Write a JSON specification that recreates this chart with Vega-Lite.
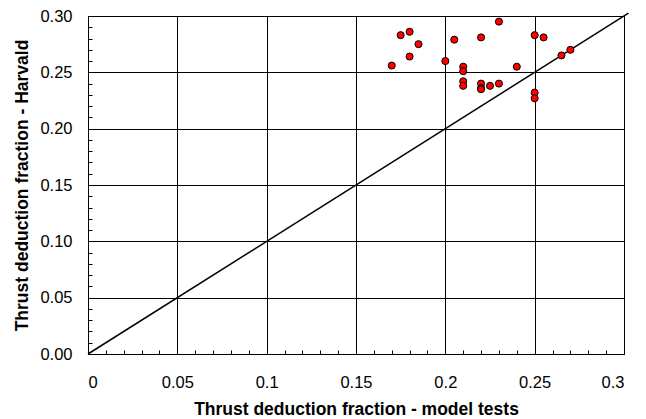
{
  "$schema": "https://vega.github.io/schema/vega-lite/v6.json",
  "width": 536,
  "height": 338,
  "autosize": {"type": "none"},
  "padding": {"left": 88, "top": 16, "right": 22, "bottom": 65},
  "background": "white",
  "config": {
    "view": {"stroke": "black", "strokeWidth": 1},
    "font": "Liberation Sans",
    "axis": {
      "labelFont": "Liberation Sans",
      "titleFont": "Liberation Sans",
      "labelColor": "black",
      "titleColor": "black",
      "domainColor": "black",
      "tickColor": "black",
      "gridColor": "black",
      "gridOpacity": 1,
      "gridWidth": 1
    }
  },
  "datasets": {
    "points": [
      {"model": 0.170, "harvald": 0.256},
      {"model": 0.175, "harvald": 0.283},
      {"model": 0.180, "harvald": 0.286},
      {"model": 0.180, "harvald": 0.264},
      {"model": 0.185, "harvald": 0.275},
      {"model": 0.200, "harvald": 0.260},
      {"model": 0.205, "harvald": 0.279},
      {"model": 0.220, "harvald": 0.281},
      {"model": 0.230, "harvald": 0.295},
      {"model": 0.210, "harvald": 0.255},
      {"model": 0.210, "harvald": 0.251},
      {"model": 0.210, "harvald": 0.242},
      {"model": 0.210, "harvald": 0.238},
      {"model": 0.220, "harvald": 0.240},
      {"model": 0.220, "harvald": 0.236},
      {"model": 0.220, "harvald": 0.235},
      {"model": 0.225, "harvald": 0.238},
      {"model": 0.230, "harvald": 0.240},
      {"model": 0.240, "harvald": 0.255},
      {"model": 0.250, "harvald": 0.283},
      {"model": 0.255, "harvald": 0.281},
      {"model": 0.250, "harvald": 0.232},
      {"model": 0.250, "harvald": 0.227},
      {"model": 0.265, "harvald": 0.265},
      {"model": 0.270, "harvald": 0.270}
    ],
    "diag": [
      {"model": 0, "harvald": 0},
      {"model": 0.3025, "harvald": 0.3025}
    ]
  },
  "resolve": {"axis": {"x": "independent", "y": "independent"}},
  "layer": [
    {
      "data": {"name": "diag"},
      "mark": {"type": "line", "color": "black", "strokeWidth": 1.5, "clip": false},
      "encoding": {
        "x": {
          "field": "model", "type": "quantitative",
          "scale": {"domain": [0, 0.3], "nice": false, "zero": false},
          "axis": {
            "orient": "bottom",
            "title": null, "labels": false, "grid": false, "domain": false,
            "ticks": true, "tickSize": -4, "tickWidth": 1,
            "values": [0,0.01,0.02,0.03,0.04,0.05,0.06,0.07,0.08,0.09,0.1,0.11,0.12,0.13,0.14,0.15,0.16,0.17,0.18,0.19,0.2,0.21,0.22,0.23,0.24,0.25,0.26,0.27,0.28,0.29,0.3]
          }
        },
        "y": {
          "field": "harvald", "type": "quantitative",
          "scale": {"domain": [0, 0.3], "nice": false, "zero": false},
          "axis": {
            "orient": "left",
            "title": null, "labels": false, "grid": false, "domain": false,
            "ticks": true, "tickSize": -4, "tickWidth": 1,
            "values": [0,0.01,0.02,0.03,0.04,0.05,0.06,0.07,0.08,0.09,0.1,0.11,0.12,0.13,0.14,0.15,0.16,0.17,0.18,0.19,0.2,0.21,0.22,0.23,0.24,0.25,0.26,0.27,0.28,0.29,0.3]
          }
        }
      }
    },
    {
      "data": {"name": "points"},
      "mark": {"type": "point", "filled": true, "fill": "#FF0000", "stroke": "black", "strokeWidth": 1, "size": 50, "opacity": 1, "shape": "circle"},
      "encoding": {
        "x": {
          "field": "model", "type": "quantitative",
          "axis": {
            "orient": "bottom",
            "title": "Thrust deduction fraction - model tests",
            "titleFontSize": 17.5, "titleFontWeight": "bold", "titlePadding": 10,
            "labelFontSize": 16.5, "labelPadding": 20, "format": "~g",
            "ticks": false, "grid": true, "domain": true,
            "values": [0, 0.05, 0.1, 0.15, 0.2, 0.25, 0.3]
          }
        },
        "y": {
          "field": "harvald", "type": "quantitative",
          "axis": {
            "orient": "left",
            "title": "Thrust deduction fraction - Harvald",
            "titleFontSize": 17.5, "titleFontWeight": "bold", "titlePadding": 8,
            "labelFontSize": 16.5, "labelPadding": 16, "format": ".2f",
            "ticks": false, "grid": true, "domain": true,
            "values": [0, 0.05, 0.1, 0.15, 0.2, 0.25, 0.3]
          }
        }
      }
    }
  ]
}
